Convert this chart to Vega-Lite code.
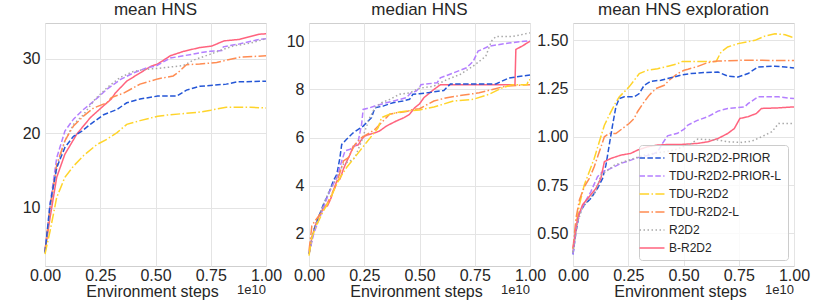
{
"$schema": "https://vega.github.io/schema/vega-lite/v6.json",
"padding": {"left": 21, "top": 0, "right": 0, "bottom": 0},
"background": "white",
"bounds": "flush",
"spacing": 43,
"config": {
  "font": "Liberation Sans, DejaVu Sans, sans-serif",
  "view": {"stroke": "#cfcfcf", "strokeWidth": 1},
  "axis": {"grid": true, "gridColor": "#e4e4e4", "gridWidth": 1, "domain": false, "ticks": false, "labelFontSize": 16, "labelColor": "#262626", "titleFontSize": 16, "titleFontWeight": "normal", "titleColor": "#262626", "labelOverlap": false, "labelBound": false, "labelFlush": false},
  "axisX": {"labelPadding": 1, "titlePadding": 0},
  "axisY": {"labelPadding": 5},
  "title": {"fontSize": 17, "fontWeight": "normal", "color": "#262626", "offset": 4}
},
"datasets": {
"mean": [
{"s":"B-R2D2","x":0,"y":4.2},{"s":"B-R2D2","x":0.023,"y":8.7},{"s":"B-R2D2","x":0.053,"y":14.1},{"s":"B-R2D2","x":0.09,"y":17.2},{"s":"B-R2D2","x":0.144,"y":19.9},{"s":"B-R2D2","x":0.205,"y":22.1},{"s":"B-R2D2","x":0.265,"y":23.7},{"s":"B-R2D2","x":0.3,"y":24.6},{"s":"B-R2D2","x":0.318,"y":25.4},{"s":"B-R2D2","x":0.37,"y":27.0},{"s":"B-R2D2","x":0.43,"y":28.1},{"s":"B-R2D2","x":0.48,"y":29.0},{"s":"B-R2D2","x":0.51,"y":29.3},{"s":"B-R2D2","x":0.567,"y":30.4},{"s":"B-R2D2","x":0.627,"y":31.0},{"s":"B-R2D2","x":0.7,"y":31.5},{"s":"B-R2D2","x":0.754,"y":31.7},{"s":"B-R2D2","x":0.81,"y":32.4},{"s":"B-R2D2","x":0.88,"y":32.6},{"s":"B-R2D2","x":0.93,"y":33.0},{"s":"B-R2D2","x":0.97,"y":33.3},{"s":"B-R2D2","x":1.0,"y":33.35},
{"s":"TDU-R2D2-PRIOR-L","x":0,"y":4.2},{"s":"TDU-R2D2-PRIOR-L","x":0.023,"y":10.5},{"s":"TDU-R2D2-PRIOR-L","x":0.053,"y":16.7},{"s":"TDU-R2D2-PRIOR-L","x":0.09,"y":20.3},{"s":"TDU-R2D2-PRIOR-L","x":0.129,"y":21.9},{"s":"TDU-R2D2-PRIOR-L","x":0.174,"y":23.2},{"s":"TDU-R2D2-PRIOR-L","x":0.22,"y":24.3},{"s":"TDU-R2D2-PRIOR-L","x":0.28,"y":25.9},{"s":"TDU-R2D2-PRIOR-L","x":0.34,"y":27.2},{"s":"TDU-R2D2-PRIOR-L","x":0.4,"y":28.1},{"s":"TDU-R2D2-PRIOR-L","x":0.46,"y":28.8},{"s":"TDU-R2D2-PRIOR-L","x":0.5,"y":29.0},{"s":"TDU-R2D2-PRIOR-L","x":0.567,"y":30.1},{"s":"TDU-R2D2-PRIOR-L","x":0.627,"y":30.4},{"s":"TDU-R2D2-PRIOR-L","x":0.7,"y":30.8},{"s":"TDU-R2D2-PRIOR-L","x":0.747,"y":31.0},{"s":"TDU-R2D2-PRIOR-L","x":0.8,"y":31.1},{"s":"TDU-R2D2-PRIOR-L","x":0.807,"y":31.6},{"s":"TDU-R2D2-PRIOR-L","x":0.88,"y":32.0},{"s":"TDU-R2D2-PRIOR-L","x":0.97,"y":32.6},{"s":"TDU-R2D2-PRIOR-L","x":1.0,"y":32.7},
{"s":"R2D2","x":0,"y":4.0},{"s":"R2D2","x":0.023,"y":9.6},{"s":"R2D2","x":0.053,"y":15.4},{"s":"R2D2","x":0.09,"y":19.0},{"s":"R2D2","x":0.129,"y":21.2},{"s":"R2D2","x":0.174,"y":22.5},{"s":"R2D2","x":0.227,"y":24.6},{"s":"R2D2","x":0.28,"y":26.1},{"s":"R2D2","x":0.34,"y":27.5},{"s":"R2D2","x":0.4,"y":28.3},{"s":"R2D2","x":0.46,"y":28.6},{"s":"R2D2","x":0.51,"y":28.7},{"s":"R2D2","x":0.627,"y":29.1},{"s":"R2D2","x":0.67,"y":29.8},{"s":"R2D2","x":0.747,"y":30.6},{"s":"R2D2","x":0.8,"y":31.2},{"s":"R2D2","x":0.85,"y":31.7},{"s":"R2D2","x":0.93,"y":32.1},{"s":"R2D2","x":1.0,"y":32.7},
{"s":"TDU-R2D2-L","x":0,"y":4.2},{"s":"TDU-R2D2-L","x":0.023,"y":10.0},{"s":"TDU-R2D2-L","x":0.053,"y":15.8},{"s":"TDU-R2D2-L","x":0.09,"y":19.0},{"s":"TDU-R2D2-L","x":0.129,"y":21.0},{"s":"TDU-R2D2-L","x":0.174,"y":22.3},{"s":"TDU-R2D2-L","x":0.22,"y":23.4},{"s":"TDU-R2D2-L","x":0.28,"y":24.1},{"s":"TDU-R2D2-L","x":0.3,"y":24.8},{"s":"TDU-R2D2-L","x":0.356,"y":25.4},{"s":"TDU-R2D2-L","x":0.43,"y":26.6},{"s":"TDU-R2D2-L","x":0.51,"y":27.3},{"s":"TDU-R2D2-L","x":0.58,"y":27.7},{"s":"TDU-R2D2-L","x":0.6,"y":28.1},{"s":"TDU-R2D2-L","x":0.64,"y":29.2},{"s":"TDU-R2D2-L","x":0.7,"y":29.3},{"s":"TDU-R2D2-L","x":0.777,"y":29.5},{"s":"TDU-R2D2-L","x":0.82,"y":29.8},{"s":"TDU-R2D2-L","x":0.88,"y":30.2},{"s":"TDU-R2D2-L","x":1.0,"y":30.4},
{"s":"TDU-R2D2-PRIOR","x":0,"y":4.0},{"s":"TDU-R2D2-PRIOR","x":0.023,"y":10.5},{"s":"TDU-R2D2-PRIOR","x":0.053,"y":15.4},{"s":"TDU-R2D2-PRIOR","x":0.09,"y":18.1},{"s":"TDU-R2D2-PRIOR","x":0.129,"y":19.6},{"s":"TDU-R2D2-PRIOR","x":0.167,"y":20.3},{"s":"TDU-R2D2-PRIOR","x":0.205,"y":21.2},{"s":"TDU-R2D2-PRIOR","x":0.265,"y":22.5},{"s":"TDU-R2D2-PRIOR","x":0.326,"y":23.2},{"s":"TDU-R2D2-PRIOR","x":0.37,"y":24.1},{"s":"TDU-R2D2-PRIOR","x":0.43,"y":24.6},{"s":"TDU-R2D2-PRIOR","x":0.51,"y":25.0},{"s":"TDU-R2D2-PRIOR","x":0.597,"y":25.0},{"s":"TDU-R2D2-PRIOR","x":0.64,"y":25.8},{"s":"TDU-R2D2-PRIOR","x":0.7,"y":26.3},{"s":"TDU-R2D2-PRIOR","x":0.82,"y":26.6},{"s":"TDU-R2D2-PRIOR","x":0.87,"y":26.9},{"s":"TDU-R2D2-PRIOR","x":1.0,"y":27.0},
{"s":"TDU-R2D2","x":0,"y":3.8},{"s":"TDU-R2D2","x":0.023,"y":6.9},{"s":"TDU-R2D2","x":0.053,"y":11.4},{"s":"TDU-R2D2","x":0.09,"y":14.1},{"s":"TDU-R2D2","x":0.129,"y":15.6},{"s":"TDU-R2D2","x":0.174,"y":17.0},{"s":"TDU-R2D2","x":0.235,"y":18.5},{"s":"TDU-R2D2","x":0.28,"y":19.2},{"s":"TDU-R2D2","x":0.326,"y":20.1},{"s":"TDU-R2D2","x":0.37,"y":21.2},{"s":"TDU-R2D2","x":0.43,"y":21.7},{"s":"TDU-R2D2","x":0.51,"y":22.3},{"s":"TDU-R2D2","x":0.567,"y":22.5},{"s":"TDU-R2D2","x":0.69,"y":22.8},{"s":"TDU-R2D2","x":0.75,"y":23.1},{"s":"TDU-R2D2","x":0.82,"y":23.5},{"s":"TDU-R2D2","x":0.93,"y":23.5},{"s":"TDU-R2D2","x":1.0,"y":23.4}
],
"median": [
{"s":"B-R2D2","x":0,"y":1.17},{"s":"B-R2D2","x":0.013,"y":1.86},{"s":"B-R2D2","x":0.028,"y":2.34},{"s":"B-R2D2","x":0.043,"y":2.7},{"s":"B-R2D2","x":0.066,"y":3.1},{"s":"B-R2D2","x":0.084,"y":3.17},{"s":"B-R2D2","x":0.1,"y":3.5},{"s":"B-R2D2","x":0.11,"y":3.8},{"s":"B-R2D2","x":0.126,"y":4.2},{"s":"B-R2D2","x":0.14,"y":4.28},{"s":"B-R2D2","x":0.156,"y":4.7},{"s":"B-R2D2","x":0.17,"y":5.0},{"s":"B-R2D2","x":0.186,"y":5.3},{"s":"B-R2D2","x":0.2,"y":5.65},{"s":"B-R2D2","x":0.223,"y":5.7},{"s":"B-R2D2","x":0.238,"y":5.93},{"s":"B-R2D2","x":0.253,"y":6.07},{"s":"B-R2D2","x":0.275,"y":6.14},{"s":"B-R2D2","x":0.298,"y":6.2},{"s":"B-R2D2","x":0.32,"y":6.28},{"s":"B-R2D2","x":0.35,"y":6.48},{"s":"B-R2D2","x":0.395,"y":6.69},{"s":"B-R2D2","x":0.43,"y":6.83},{"s":"B-R2D2","x":0.455,"y":6.97},{"s":"B-R2D2","x":0.478,"y":7.24},{"s":"B-R2D2","x":0.5,"y":7.4},{"s":"B-R2D2","x":0.52,"y":7.66},{"s":"B-R2D2","x":0.565,"y":8.0},{"s":"B-R2D2","x":0.595,"y":8.2},{"s":"B-R2D2","x":0.932,"y":8.2},{"s":"B-R2D2","x":0.936,"y":9.66},{"s":"B-R2D2","x":0.964,"y":9.8},{"s":"B-R2D2","x":1.0,"y":10.0},
{"s":"TDU-R2D2-PRIOR","x":0,"y":1.17},{"s":"TDU-R2D2-PRIOR","x":0.021,"y":2.14},{"s":"TDU-R2D2-PRIOR","x":0.043,"y":2.7},{"s":"TDU-R2D2-PRIOR","x":0.066,"y":3.24},{"s":"TDU-R2D2-PRIOR","x":0.088,"y":3.66},{"s":"TDU-R2D2-PRIOR","x":0.11,"y":4.2},{"s":"TDU-R2D2-PRIOR","x":0.126,"y":4.48},{"s":"TDU-R2D2-PRIOR","x":0.14,"y":5.17},{"s":"TDU-R2D2-PRIOR","x":0.148,"y":5.72},{"s":"TDU-R2D2-PRIOR","x":0.17,"y":5.93},{"s":"TDU-R2D2-PRIOR","x":0.2,"y":6.2},{"s":"TDU-R2D2-PRIOR","x":0.223,"y":6.34},{"s":"TDU-R2D2-PRIOR","x":0.245,"y":6.48},{"s":"TDU-R2D2-PRIOR","x":0.268,"y":6.69},{"s":"TDU-R2D2-PRIOR","x":0.283,"y":6.83},{"s":"TDU-R2D2-PRIOR","x":0.298,"y":7.24},{"s":"TDU-R2D2-PRIOR","x":0.335,"y":7.31},{"s":"TDU-R2D2-PRIOR","x":0.38,"y":7.45},{"s":"TDU-R2D2-PRIOR","x":0.425,"y":7.52},{"s":"TDU-R2D2-PRIOR","x":0.455,"y":7.59},{"s":"TDU-R2D2-PRIOR","x":0.47,"y":7.8},{"s":"TDU-R2D2-PRIOR","x":0.5,"y":7.82},{"s":"TDU-R2D2-PRIOR","x":0.565,"y":7.9},{"s":"TDU-R2D2-PRIOR","x":0.61,"y":7.96},{"s":"TDU-R2D2-PRIOR","x":0.64,"y":8.23},{"s":"TDU-R2D2-PRIOR","x":0.846,"y":8.23},{"s":"TDU-R2D2-PRIOR","x":0.905,"y":8.48},{"s":"TDU-R2D2-PRIOR","x":1.0,"y":8.6},
{"s":"TDU-R2D2-PRIOR-L","x":0,"y":1.17},{"s":"TDU-R2D2-PRIOR-L","x":0.021,"y":2.0},{"s":"TDU-R2D2-PRIOR-L","x":0.043,"y":2.55},{"s":"TDU-R2D2-PRIOR-L","x":0.066,"y":3.1},{"s":"TDU-R2D2-PRIOR-L","x":0.088,"y":3.66},{"s":"TDU-R2D2-PRIOR-L","x":0.11,"y":4.07},{"s":"TDU-R2D2-PRIOR-L","x":0.126,"y":4.34},{"s":"TDU-R2D2-PRIOR-L","x":0.148,"y":5.03},{"s":"TDU-R2D2-PRIOR-L","x":0.163,"y":5.45},{"s":"TDU-R2D2-PRIOR-L","x":0.186,"y":5.52},{"s":"TDU-R2D2-PRIOR-L","x":0.208,"y":5.65},{"s":"TDU-R2D2-PRIOR-L","x":0.223,"y":5.86},{"s":"TDU-R2D2-PRIOR-L","x":0.238,"y":6.55},{"s":"TDU-R2D2-PRIOR-L","x":0.245,"y":7.17},{"s":"TDU-R2D2-PRIOR-L","x":0.275,"y":7.24},{"s":"TDU-R2D2-PRIOR-L","x":0.298,"y":7.31},{"s":"TDU-R2D2-PRIOR-L","x":0.35,"y":7.45},{"s":"TDU-R2D2-PRIOR-L","x":0.395,"y":7.55},{"s":"TDU-R2D2-PRIOR-L","x":0.44,"y":7.66},{"s":"TDU-R2D2-PRIOR-L","x":0.462,"y":7.86},{"s":"TDU-R2D2-PRIOR-L","x":0.485,"y":7.93},{"s":"TDU-R2D2-PRIOR-L","x":0.5,"y":8.07},{"s":"TDU-R2D2-PRIOR-L","x":0.506,"y":8.2},{"s":"TDU-R2D2-PRIOR-L","x":0.58,"y":8.28},{"s":"TDU-R2D2-PRIOR-L","x":0.594,"y":8.48},{"s":"TDU-R2D2-PRIOR-L","x":0.654,"y":8.69},{"s":"TDU-R2D2-PRIOR-L","x":0.713,"y":8.9},{"s":"TDU-R2D2-PRIOR-L","x":0.743,"y":9.17},{"s":"TDU-R2D2-PRIOR-L","x":0.765,"y":9.59},{"s":"TDU-R2D2-PRIOR-L","x":0.815,"y":9.8},{"s":"TDU-R2D2-PRIOR-L","x":0.905,"y":9.93},{"s":"TDU-R2D2-PRIOR-L","x":1.0,"y":10.03},
{"s":"R2D2","x":0,"y":1.17},{"s":"R2D2","x":0.021,"y":2.14},{"s":"R2D2","x":0.043,"y":2.7},{"s":"R2D2","x":0.066,"y":3.24},{"s":"R2D2","x":0.088,"y":3.72},{"s":"R2D2","x":0.11,"y":4.07},{"s":"R2D2","x":0.133,"y":4.48},{"s":"R2D2","x":0.156,"y":4.9},{"s":"R2D2","x":0.186,"y":5.03},{"s":"R2D2","x":0.208,"y":5.17},{"s":"R2D2","x":0.223,"y":5.52},{"s":"R2D2","x":0.238,"y":5.86},{"s":"R2D2","x":0.253,"y":6.28},{"s":"R2D2","x":0.275,"y":6.83},{"s":"R2D2","x":0.298,"y":7.24},{"s":"R2D2","x":0.328,"y":7.45},{"s":"R2D2","x":0.365,"y":7.59},{"s":"R2D2","x":0.41,"y":7.8},{"s":"R2D2","x":0.455,"y":7.86},{"s":"R2D2","x":0.5,"y":8.05},{"s":"R2D2","x":0.565,"y":8.14},{"s":"R2D2","x":0.624,"y":8.41},{"s":"R2D2","x":0.683,"y":8.62},{"s":"R2D2","x":0.743,"y":8.97},{"s":"R2D2","x":0.8,"y":9.38},{"s":"R2D2","x":0.825,"y":10.0},{"s":"R2D2","x":0.846,"y":10.2},{"s":"R2D2","x":0.92,"y":10.2},{"s":"R2D2","x":1.0,"y":10.35},
{"s":"TDU-R2D2-L","x":0,"y":1.3},{"s":"TDU-R2D2-L","x":0.013,"y":2.34},{"s":"TDU-R2D2-L","x":0.028,"y":2.55},{"s":"TDU-R2D2-L","x":0.051,"y":2.83},{"s":"TDU-R2D2-L","x":0.081,"y":3.24},{"s":"TDU-R2D2-L","x":0.103,"y":3.66},{"s":"TDU-R2D2-L","x":0.118,"y":3.93},{"s":"TDU-R2D2-L","x":0.133,"y":4.34},{"s":"TDU-R2D2-L","x":0.156,"y":5.03},{"s":"TDU-R2D2-L","x":0.178,"y":5.17},{"s":"TDU-R2D2-L","x":0.193,"y":5.45},{"s":"TDU-R2D2-L","x":0.208,"y":5.72},{"s":"TDU-R2D2-L","x":0.238,"y":6.0},{"s":"TDU-R2D2-L","x":0.275,"y":6.2},{"s":"TDU-R2D2-L","x":0.298,"y":6.34},{"s":"TDU-R2D2-L","x":0.335,"y":6.69},{"s":"TDU-R2D2-L","x":0.365,"y":6.97},{"s":"TDU-R2D2-L","x":0.395,"y":7.03},{"s":"TDU-R2D2-L","x":0.44,"y":7.08},{"s":"TDU-R2D2-L","x":0.47,"y":7.17},{"s":"TDU-R2D2-L","x":0.5,"y":7.2},{"s":"TDU-R2D2-L","x":0.565,"y":7.52},{"s":"TDU-R2D2-L","x":0.624,"y":7.66},{"s":"TDU-R2D2-L","x":0.7,"y":7.77},{"s":"TDU-R2D2-L","x":0.77,"y":7.86},{"s":"TDU-R2D2-L","x":0.83,"y":8.0},{"s":"TDU-R2D2-L","x":0.89,"y":8.14},{"s":"TDU-R2D2-L","x":1.0,"y":8.2},
{"s":"TDU-R2D2","x":0,"y":1.1},{"s":"TDU-R2D2","x":0.013,"y":1.86},{"s":"TDU-R2D2","x":0.036,"y":2.41},{"s":"TDU-R2D2","x":0.066,"y":2.97},{"s":"TDU-R2D2","x":0.096,"y":3.45},{"s":"TDU-R2D2","x":0.118,"y":3.93},{"s":"TDU-R2D2","x":0.141,"y":4.34},{"s":"TDU-R2D2","x":0.17,"y":4.76},{"s":"TDU-R2D2","x":0.2,"y":5.1},{"s":"TDU-R2D2","x":0.23,"y":5.45},{"s":"TDU-R2D2","x":0.26,"y":5.8},{"s":"TDU-R2D2","x":0.29,"y":6.14},{"s":"TDU-R2D2","x":0.313,"y":6.41},{"s":"TDU-R2D2","x":0.328,"y":6.83},{"s":"TDU-R2D2","x":0.365,"y":6.97},{"s":"TDU-R2D2","x":0.41,"y":7.06},{"s":"TDU-R2D2","x":0.455,"y":7.12},{"s":"TDU-R2D2","x":0.5,"y":7.15},{"s":"TDU-R2D2","x":0.565,"y":7.27},{"s":"TDU-R2D2","x":0.654,"y":7.52},{"s":"TDU-R2D2","x":0.743,"y":7.59},{"s":"TDU-R2D2","x":0.815,"y":7.8},{"s":"TDU-R2D2","x":0.875,"y":8.07},{"s":"TDU-R2D2","x":0.92,"y":8.2},{"s":"TDU-R2D2","x":0.986,"y":8.2},{"s":"TDU-R2D2","x":0.994,"y":8.4},{"s":"TDU-R2D2","x":1.0,"y":8.4}
],
"expl": [
{"s":"TDU-R2D2","x":0,"y":0.4},{"s":"TDU-R2D2","x":0.0136,"y":0.543},{"s":"TDU-R2D2","x":0.029,"y":0.647},{"s":"TDU-R2D2","x":0.051,"y":0.75},{"s":"TDU-R2D2","x":0.074,"y":0.82},{"s":"TDU-R2D2","x":0.096,"y":0.888},{"s":"TDU-R2D2","x":0.119,"y":0.974},{"s":"TDU-R2D2","x":0.142,"y":1.06},{"s":"TDU-R2D2","x":0.164,"y":1.112},{"s":"TDU-R2D2","x":0.187,"y":1.164},{"s":"TDU-R2D2","x":0.209,"y":1.207},{"s":"TDU-R2D2","x":0.232,"y":1.233},{"s":"TDU-R2D2","x":0.254,"y":1.259},{"s":"TDU-R2D2","x":0.277,"y":1.293},{"s":"TDU-R2D2","x":0.3,"y":1.328},{"s":"TDU-R2D2","x":0.337,"y":1.345},{"s":"TDU-R2D2","x":0.383,"y":1.353},{"s":"TDU-R2D2","x":0.43,"y":1.366},{"s":"TDU-R2D2","x":0.473,"y":1.379},{"s":"TDU-R2D2","x":0.495,"y":1.391},{"s":"TDU-R2D2","x":0.648,"y":1.391},{"s":"TDU-R2D2","x":0.67,"y":1.44},{"s":"TDU-R2D2","x":0.7,"y":1.466},{"s":"TDU-R2D2","x":0.747,"y":1.483},{"s":"TDU-R2D2","x":0.823,"y":1.5},{"s":"TDU-R2D2","x":0.868,"y":1.522},{"s":"TDU-R2D2","x":0.914,"y":1.534},{"s":"TDU-R2D2","x":0.96,"y":1.529},{"s":"TDU-R2D2","x":0.989,"y":1.517},{"s":"TDU-R2D2","x":1.0,"y":1.514},
{"s":"TDU-R2D2-L","x":0,"y":0.42},{"s":"TDU-R2D2-L","x":0.0136,"y":0.578},{"s":"TDU-R2D2-L","x":0.029,"y":0.672},{"s":"TDU-R2D2-L","x":0.051,"y":0.74},{"s":"TDU-R2D2-L","x":0.074,"y":0.784},{"s":"TDU-R2D2-L","x":0.096,"y":0.845},{"s":"TDU-R2D2-L","x":0.119,"y":0.922},{"s":"TDU-R2D2-L","x":0.142,"y":1.0},{"s":"TDU-R2D2-L","x":0.164,"y":1.017},{"s":"TDU-R2D2-L","x":0.194,"y":1.017},{"s":"TDU-R2D2-L","x":0.224,"y":1.043},{"s":"TDU-R2D2-L","x":0.254,"y":1.069},{"s":"TDU-R2D2-L","x":0.277,"y":1.095},{"s":"TDU-R2D2-L","x":0.292,"y":1.13},{"s":"TDU-R2D2-L","x":0.322,"y":1.181},{"s":"TDU-R2D2-L","x":0.345,"y":1.216},{"s":"TDU-R2D2-L","x":0.375,"y":1.25},{"s":"TDU-R2D2-L","x":0.413,"y":1.267},{"s":"TDU-R2D2-L","x":0.435,"y":1.293},{"s":"TDU-R2D2-L","x":0.473,"y":1.328},{"s":"TDU-R2D2-L","x":0.503,"y":1.345},{"s":"TDU-R2D2-L","x":0.52,"y":1.35},{"s":"TDU-R2D2-L","x":0.565,"y":1.365},{"s":"TDU-R2D2-L","x":0.61,"y":1.385},{"s":"TDU-R2D2-L","x":0.656,"y":1.393},{"s":"TDU-R2D2-L","x":0.777,"y":1.397},{"s":"TDU-R2D2-L","x":1.0,"y":1.395},
{"s":"TDU-R2D2-PRIOR","x":0,"y":0.39},{"s":"TDU-R2D2-PRIOR","x":0.0136,"y":0.509},{"s":"TDU-R2D2-PRIOR","x":0.029,"y":0.603},{"s":"TDU-R2D2-PRIOR","x":0.051,"y":0.647},{"s":"TDU-R2D2-PRIOR","x":0.081,"y":0.681},{"s":"TDU-R2D2-PRIOR","x":0.111,"y":0.733},{"s":"TDU-R2D2-PRIOR","x":0.134,"y":0.784},{"s":"TDU-R2D2-PRIOR","x":0.149,"y":0.853},{"s":"TDU-R2D2-PRIOR","x":0.164,"y":0.957},{"s":"TDU-R2D2-PRIOR","x":0.179,"y":1.06},{"s":"TDU-R2D2-PRIOR","x":0.194,"y":1.155},{"s":"TDU-R2D2-PRIOR","x":0.209,"y":1.198},{"s":"TDU-R2D2-PRIOR","x":0.232,"y":1.207},{"s":"TDU-R2D2-PRIOR","x":0.277,"y":1.207},{"s":"TDU-R2D2-PRIOR","x":0.3,"y":1.224},{"s":"TDU-R2D2-PRIOR","x":0.322,"y":1.267},{"s":"TDU-R2D2-PRIOR","x":0.352,"y":1.288},{"s":"TDU-R2D2-PRIOR","x":0.398,"y":1.293},{"s":"TDU-R2D2-PRIOR","x":0.428,"y":1.302},{"s":"TDU-R2D2-PRIOR","x":0.458,"y":1.31},{"s":"TDU-R2D2-PRIOR","x":0.495,"y":1.322},{"s":"TDU-R2D2-PRIOR","x":0.535,"y":1.328},{"s":"TDU-R2D2-PRIOR","x":0.595,"y":1.333},{"s":"TDU-R2D2-PRIOR","x":0.656,"y":1.336},{"s":"TDU-R2D2-PRIOR","x":0.7,"y":1.315},{"s":"TDU-R2D2-PRIOR","x":0.747,"y":1.31},{"s":"TDU-R2D2-PRIOR","x":0.792,"y":1.328},{"s":"TDU-R2D2-PRIOR","x":0.838,"y":1.362},{"s":"TDU-R2D2-PRIOR","x":0.914,"y":1.366},{"s":"TDU-R2D2-PRIOR","x":0.96,"y":1.362},{"s":"TDU-R2D2-PRIOR","x":1.0,"y":1.357},
{"s":"TDU-R2D2-PRIOR-L","x":0,"y":0.39},{"s":"TDU-R2D2-PRIOR-L","x":0.0136,"y":0.526},{"s":"TDU-R2D2-PRIOR-L","x":0.029,"y":0.603},{"s":"TDU-R2D2-PRIOR-L","x":0.051,"y":0.655},{"s":"TDU-R2D2-PRIOR-L","x":0.081,"y":0.716},{"s":"TDU-R2D2-PRIOR-L","x":0.111,"y":0.793},{"s":"TDU-R2D2-PRIOR-L","x":0.134,"y":0.819},{"s":"TDU-R2D2-PRIOR-L","x":0.172,"y":0.836},{"s":"TDU-R2D2-PRIOR-L","x":0.217,"y":0.862},{"s":"TDU-R2D2-PRIOR-L","x":0.262,"y":0.879},{"s":"TDU-R2D2-PRIOR-L","x":0.307,"y":0.897},{"s":"TDU-R2D2-PRIOR-L","x":0.352,"y":0.905},{"s":"TDU-R2D2-PRIOR-L","x":0.383,"y":0.922},{"s":"TDU-R2D2-PRIOR-L","x":0.405,"y":0.966},{"s":"TDU-R2D2-PRIOR-L","x":0.428,"y":1.005},{"s":"TDU-R2D2-PRIOR-L","x":0.473,"y":1.018},{"s":"TDU-R2D2-PRIOR-L","x":0.503,"y":1.04},{"s":"TDU-R2D2-PRIOR-L","x":0.52,"y":1.061},{"s":"TDU-R2D2-PRIOR-L","x":0.565,"y":1.086},{"s":"TDU-R2D2-PRIOR-L","x":0.61,"y":1.104},{"s":"TDU-R2D2-PRIOR-L","x":0.656,"y":1.133},{"s":"TDU-R2D2-PRIOR-L","x":0.7,"y":1.147},{"s":"TDU-R2D2-PRIOR-L","x":0.777,"y":1.155},{"s":"TDU-R2D2-PRIOR-L","x":0.792,"y":1.172},{"s":"TDU-R2D2-PRIOR-L","x":0.838,"y":1.207},{"s":"TDU-R2D2-PRIOR-L","x":0.93,"y":1.207},{"s":"TDU-R2D2-PRIOR-L","x":1.0,"y":1.198},
{"s":"B-R2D2","x":0,"y":0.42},{"s":"B-R2D2","x":0.021,"y":0.578},{"s":"B-R2D2","x":0.043,"y":0.647},{"s":"B-R2D2","x":0.074,"y":0.69},{"s":"B-R2D2","x":0.104,"y":0.733},{"s":"B-R2D2","x":0.126,"y":0.784},{"s":"B-R2D2","x":0.142,"y":0.871},{"s":"B-R2D2","x":0.172,"y":0.888},{"s":"B-R2D2","x":0.217,"y":0.905},{"s":"B-R2D2","x":0.262,"y":0.914},{"s":"B-R2D2","x":0.292,"y":0.931},{"s":"B-R2D2","x":0.337,"y":0.948},{"s":"B-R2D2","x":0.383,"y":0.957},{"s":"B-R2D2","x":0.428,"y":0.96},{"s":"B-R2D2","x":0.488,"y":0.96},{"s":"B-R2D2","x":0.565,"y":0.966},{"s":"B-R2D2","x":0.61,"y":0.974},{"s":"B-R2D2","x":0.656,"y":0.991},{"s":"B-R2D2","x":0.7,"y":1.017},{"s":"B-R2D2","x":0.73,"y":1.043},{"s":"B-R2D2","x":0.755,"y":1.095},{"s":"B-R2D2","x":0.792,"y":1.104},{"s":"B-R2D2","x":0.83,"y":1.121},{"s":"B-R2D2","x":0.853,"y":1.147},{"s":"B-R2D2","x":0.93,"y":1.15},{"s":"B-R2D2","x":1.0,"y":1.155},
{"s":"R2D2","x":0,"y":0.4},{"s":"R2D2","x":0.021,"y":0.56},{"s":"R2D2","x":0.043,"y":0.63},{"s":"R2D2","x":0.074,"y":0.68},{"s":"R2D2","x":0.104,"y":0.716},{"s":"R2D2","x":0.126,"y":0.802},{"s":"R2D2","x":0.149,"y":0.819},{"s":"R2D2","x":0.187,"y":0.853},{"s":"R2D2","x":0.232,"y":0.871},{"s":"R2D2","x":0.277,"y":0.888},{"s":"R2D2","x":0.322,"y":0.905},{"s":"R2D2","x":0.367,"y":0.914},{"s":"R2D2","x":0.413,"y":0.922},{"s":"R2D2","x":0.458,"y":0.931},{"s":"R2D2","x":0.49,"y":0.945},{"s":"R2D2","x":0.535,"y":0.966},{"s":"R2D2","x":0.565,"y":0.988},{"s":"R2D2","x":0.656,"y":0.983},{"s":"R2D2","x":0.7,"y":0.974},{"s":"R2D2","x":0.762,"y":0.971},{"s":"R2D2","x":0.808,"y":0.977},{"s":"R2D2","x":0.853,"y":1.0},{"s":"R2D2","x":0.9,"y":1.026},{"s":"R2D2","x":0.93,"y":1.069},{"s":"R2D2","x":1.0,"y":1.069}
]
},
"hconcat": [
{
 "title": {"text": "mean HNS"},
 "width": 221, "height": 243,
 "data": {"name": "mean"},
 "layer": [
  {"mark": {"type": "line", "strokeWidth": 1.5},
   "encoding": {
    "x": {"field": "x", "type": "quantitative", "scale": {"domain": [0, 1], "nice": false}, "axis": {"values": [0, 0.25, 0.5, 0.75, 1], "format": ".2f", "title": "Environment steps", "titleX": 107}},
    "y": {"field": "y", "type": "quantitative", "scale": {"domain": [2.2, 34.8], "nice": false, "zero": false}, "axis": {"values": [10, 20, 30], "title": null}},
    "color": {"field": "s", "type": "nominal", "scale": {"domain": ["TDU-R2D2-PRIOR","TDU-R2D2-PRIOR-L","TDU-R2D2","TDU-R2D2-L","R2D2","B-R2D2"], "range": ["#2456d6","#b47fff","#ffd42a","#ff8c52","#a8a8a8","#ff637e"]}, "legend": null},
    "strokeDash": {"field": "s", "type": "nominal", "scale": {"domain": ["TDU-R2D2-PRIOR","TDU-R2D2-PRIOR-L","TDU-R2D2","TDU-R2D2-L","R2D2","B-R2D2"], "range": [[5.5,2.4],[5.5,2.4],[9.6,2.4,1.5,2.4],[9.6,2.4,1.5,2.4],[1.5,2.5],[1,0]]}, "legend": null}
   }},
  {"data": {"values": [{"t": "1e10"}]},
   "mark": {"type": "text", "align": "right", "baseline": "top", "dy": 18, "fontSize": 13, "color": "#262626"},
   "encoding": {"x": {"datum": 1}, "y": {"datum": 2.2}, "text": {"field": "t"}}}
 ]
},
{
 "title": {"text": "median HNS"},
 "width": 221, "height": 243,
 "data": {"name": "median"},
 "layer": [
  {"mark": {"type": "line", "strokeWidth": 1.5},
   "encoding": {
    "x": {"field": "x", "type": "quantitative", "scale": {"domain": [0, 1], "nice": false}, "axis": {"values": [0, 0.25, 0.5, 0.75, 1], "format": ".2f", "title": "Environment steps", "titleX": 107}},
    "y": {"field": "y", "type": "quantitative", "scale": {"domain": [0.67, 10.76], "nice": false, "zero": false}, "axis": {"values": [2, 4, 6, 8, 10], "title": null}},
    "color": {"field": "s", "type": "nominal", "scale": {"domain": ["TDU-R2D2-PRIOR","TDU-R2D2-PRIOR-L","TDU-R2D2","TDU-R2D2-L","R2D2","B-R2D2"], "range": ["#2456d6","#b47fff","#ffd42a","#ff8c52","#a8a8a8","#ff637e"]}, "legend": null},
    "strokeDash": {"field": "s", "type": "nominal", "scale": {"domain": ["TDU-R2D2-PRIOR","TDU-R2D2-PRIOR-L","TDU-R2D2","TDU-R2D2-L","R2D2","B-R2D2"], "range": [[5.5,2.4],[5.5,2.4],[9.6,2.4,1.5,2.4],[9.6,2.4,1.5,2.4],[1.5,2.5],[1,0]]}, "legend": null}
   }},
  {"data": {"values": [{"t": "1e10"}]},
   "mark": {"type": "text", "align": "right", "baseline": "top", "dy": 18, "fontSize": 13, "color": "#262626"},
   "encoding": {"x": {"datum": 1}, "y": {"datum": 0.67}, "text": {"field": "t"}}}
 ]
},
{
 "title": {"text": "mean HNS exploration"},
 "width": 221, "height": 243,
 "data": {"name": "expl"},
 "layer": [
  {"mark": {"type": "line", "strokeWidth": 1.5},
   "encoding": {
    "x": {"field": "x", "type": "quantitative", "scale": {"domain": [0, 1], "nice": false}, "axis": {"values": [0, 0.25, 0.5, 0.75, 1], "format": ".2f", "title": "Environment steps", "titleX": 107}},
    "y": {"field": "y", "type": "quantitative", "scale": {"domain": [0.33, 1.59], "nice": false, "zero": false}, "axis": {"values": [0.5, 0.75, 1.0, 1.25, 1.5], "format": ".2f", "title": null}},
    "color": {"field": "s", "type": "nominal", "scale": {"domain": ["TDU-R2D2-PRIOR","TDU-R2D2-PRIOR-L","TDU-R2D2","TDU-R2D2-L","R2D2","B-R2D2"], "range": ["#2456d6","#b47fff","#ffd42a","#ff8c52","#a8a8a8","#ff637e"]},
      "legend": {"orient": "bottom-right", "offset": 6, "title": null, "labelFontSize": 12, "labelColor": "#262626", "symbolType": "M-2,0H2", "symbolSize": 156, "symbolStrokeWidth": 1.5, "labelOffset": 10, "rowPadding": 5, "padding": 6, "strokeColor": "#cccccc", "fillColor": "rgba(255,255,255,0.8)", "cornerRadius": 3}},
    "strokeDash": {"field": "s", "type": "nominal", "scale": {"domain": ["TDU-R2D2-PRIOR","TDU-R2D2-PRIOR-L","TDU-R2D2","TDU-R2D2-L","R2D2","B-R2D2"], "range": [[5.5,2.4],[5.5,2.4],[9.6,2.4,1.5,2.4],[9.6,2.4,1.5,2.4],[1.5,2.5],[1,0]]},
      "legend": {"orient": "bottom-right", "offset": 6, "title": null, "labelFontSize": 12, "labelColor": "#262626", "symbolType": "M-2,0H2", "symbolSize": 156, "symbolStrokeWidth": 1.5, "labelOffset": 10, "rowPadding": 5, "padding": 6, "strokeColor": "#cccccc", "fillColor": "rgba(255,255,255,0.8)", "cornerRadius": 3}}
   }},
  {"data": {"values": [{"t": "1e10"}]},
   "mark": {"type": "text", "align": "right", "baseline": "top", "dy": 18, "fontSize": 13, "color": "#262626"},
   "encoding": {"x": {"datum": 1}, "y": {"datum": 0.33}, "text": {"field": "t"}}}
 ]
}
],
"resolve": {"scale": {"color": "independent", "strokeDash": "independent"}, "legend": {"color": "independent", "strokeDash": "independent"}}
}
